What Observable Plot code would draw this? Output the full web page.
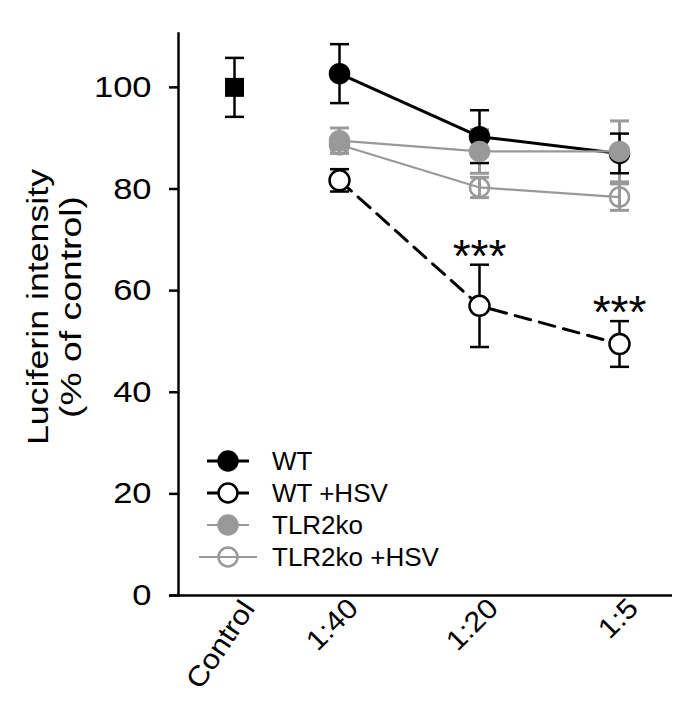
<!DOCTYPE html>
<html><head><meta charset="utf-8">
<script src="https://cdn.jsdelivr.net/npm/d3@7"></script>
<script src="https://cdn.jsdelivr.net/npm/@observablehq/plot@0.6"></script>
<style>
body{margin:0;background:#fff;}
#chart{width:685px;height:716px;}
svg{font-family:"Liberation Sans",Arial,sans-serif;}
</style></head><body><div id="chart"></div>
<script>
const categories = ["Control", "1:40", "1:20", "1:5"];
const doses = ["1:40", "1:20", "1:5"];
const controlMean = [100.0];
const controlErr = [5.8];
const wtMean = [102.7, 90.3, 87.0];
const wtErr = [5.8, 5.2, 3.9];
const wtHsvMean = [81.7, 57.0, 49.5];
const wtHsvErr = [2.2, 8.1, 4.5];
const tlrMean = [89.5, 87.4, 87.4];
const tlrErr = [2.5, 4.3, 6.0];
const tlrHsvMean = [88.7, 80.3, 78.4];
const tlrHsvErr = [1.0, 2.0, 2.6];
const seriesNames = ["WT", "WT +HSV", "TLR2ko", "TLR2ko +HSV"];
const wtHsvStars = ["", "***", "***"];
const yTicks = [0, 20, 40, 60, 80, 100];
const titleLines = ["Luciferin intensity", "(% of control)"];

const BLACK = "#000", GRAY = "#999";
const FONT = "'Liberation Sans', Arial, sans-serif";

// layout: the control column sits closer to the dose columns (3 : 4 : 4 slot spacing)
const slotGaps = [0, 2, 3, 3];
const xDomain = categories.flatMap((c, i) => [...d3.range(slotGaps[i]).map(j => `gap-${i}-${j}`), c]);

function rows(name, means, errs, stars) {
  return means.map((m, i) => ({series: name, dose: doses[i], mean: m, lo: m - errs[i], hi: m + errs[i], star: stars ? stars[i] : ""}));
}
const wt = rows(seriesNames[0], wtMean, wtErr);
const wtHsv = rows(seriesNames[1], wtHsvMean, wtHsvErr, wtHsvStars);
const tlr = rows(seriesNames[2], tlrMean, tlrErr);
const tlrHsv = rows(seriesNames[3], tlrHsvMean, tlrHsvErr);
const ctrl = controlMean.map((m, i) => ({dose: categories[0], mean: m, lo: m - controlErr[i], hi: m + controlErr[i]}));

// horizontal cap symbol for error bars
const capSymbol = {draw(ctx) { ctx.moveTo(-9.5, 0); ctx.lineTo(9.5, 0); }};

function errorBars(data, color, sw) {
  return [
    Plot.ruleX(data, {x: "dose", y1: "lo", y2: "hi", stroke: color, strokeWidth: sw}),
    Plot.dot(data, {x: "dose", y: "lo", symbol: capSymbol, fill: "none", stroke: color, strokeWidth: sw}),
    Plot.dot(data, {x: "dose", y: "hi", symbol: capSymbol, fill: "none", stroke: color, strokeWidth: sw})
  ];
}

const chart = Plot.plot({
  width: 685,
  height: 716,
  marginLeft: 178,
  marginRight: 13,
  marginTop: 33,
  marginBottom: 121,
  style: {fontFamily: FONT, background: "#fff", color: "#000"},
  x: {type: "point", domain: xDomain, padding: 1.557, align: 0.514},
  y: {domain: [0, 110.6]},
  marks: [
    Plot.axisY({ticks: yTicks, tickSize: 9, tickPadding: 18, fontSize: 30, label: null, strokeWidth: 2.5}),
    Plot.axisX({ticks: categories, tickSize: 0, tickRotate: -45, tickPadding: 8, dx: 14, fontSize: 28, label: null}),
    Plot.ruleY([0], {stroke: BLACK, strokeWidth: 2.5, insetLeft: -9}),
    Plot.frame({anchor: "left", stroke: BLACK, strokeWidth: 2.5}),
    ...errorBars(tlr, GRAY, 3),
    ...errorBars(tlrHsv, GRAY, 3),
    ...errorBars(wt, BLACK, 2.5),
    ...errorBars(wtHsv, BLACK, 2.5),
    ...errorBars(ctrl, BLACK, 2.5),
    Plot.line(wt, {x: "dose", y: "mean", stroke: BLACK, strokeWidth: 3}),
    Plot.line(wtHsv, {x: "dose", y: "mean", stroke: BLACK, strokeWidth: 3, strokeDasharray: "16,9"}),
    Plot.dot(wt, {x: "dose", y: "mean", r: 10, fill: BLACK, stroke: BLACK}),
    Plot.dot(wtHsv, {x: "dose", y: "mean", r: 10, fill: "#fff", stroke: BLACK, strokeWidth: 2.5}),
    Plot.dot(ctrl, {x: "dose", y: "mean", symbol: "square", r: 10.7, fill: BLACK}),
    Plot.line(tlr, {x: "dose", y: "mean", stroke: GRAY, strokeWidth: 2.2}),
    Plot.line(tlrHsv, {x: "dose", y: "mean", stroke: GRAY, strokeWidth: 2.2}),
    Plot.dot(tlr, {x: "dose", y: "mean", r: 10, fill: GRAY, stroke: GRAY}),
    Plot.dot(tlrHsv, {x: "dose", y: "mean", r: 9.5, fill: "none", stroke: GRAY, strokeWidth: 2.5}),
    Plot.text(wtHsv, {x: "dose", y: "hi", text: "star", fontSize: 46, lineAnchor: "bottom", dy: 7, fill: BLACK})
  ]
});
document.getElementById("chart").appendChild(chart);

const svg = d3.select(chart);
// the reference typeface is wider than Arial: stretch axis tick labels along their length
function stretch(sel, k) {
  sel.each(function () {
    const l = this.getComputedTextLength();
    this.setAttribute("textLength", l * k);
    this.setAttribute("lengthAdjust", "spacingAndGlyphs");
  });
}
stretch(svg.selectAll('g[aria-label="y-axis tick label"] text'), 1.15);
const xLabels = svg.selectAll('g[aria-label="x-axis tick label"] text');
stretch(xLabels, 1.1);
// the "Control" label is set at a steeper angle in the reference
xLabels.filter(function () { return this.textContent === categories[0]; })
  .attr("transform", function () { return (this.getAttribute("transform") || "").replace("rotate(-45)", "rotate(-56)"); });

// Y-axis title (two lines)
const tg = svg.append("g").attr("font-family", FONT).attr("fill", "#000").attr("text-anchor", "middle");
[[38, 276], [71, 222]].forEach(([x, len], i) => {
  tg.append("text").attr("transform", `translate(${x},307) rotate(-90)`)
    .attr("dominant-baseline", "central").attr("font-size", 29)
    .attr("textLength", len).attr("lengthAdjust", "spacingAndGlyphs").text(titleLines[i]);
});

// legend
const legendStyles = [
  {stroke: BLACK, fill: BLACK, x1: 207, x2: 249, sw: 2.8},
  {stroke: BLACK, fill: "#fff", x1: 207, x2: 249, sw: 2.8},
  {stroke: GRAY, fill: GRAY, x1: 207, x2: 249, sw: 2.2},
  {stroke: GRAY, fill: "none", x1: 199, x2: 257, sw: 2.2}
];
const lg = svg.append("g").attr("font-family", FONT).attr("text-anchor", "start");
seriesNames.forEach((name, i) => {
  const s = legendStyles[i];
  const y = 461 + 32 * i;
  lg.append("line").attr("x1", s.x1).attr("x2", s.x2).attr("y1", y).attr("y2", y)
    .attr("stroke", s.stroke).attr("stroke-width", s.sw);
  lg.append("circle").attr("cx", 228).attr("cy", y).attr("r", 9.5)
    .attr("fill", s.fill).attr("stroke", s.stroke).attr("stroke-width", 2.5);
  lg.append("text").attr("x", 272).attr("y", y).attr("dominant-baseline", "central")
    .attr("font-size", 26).attr("fill", "#000").text(name);
});
</script></body></html>
